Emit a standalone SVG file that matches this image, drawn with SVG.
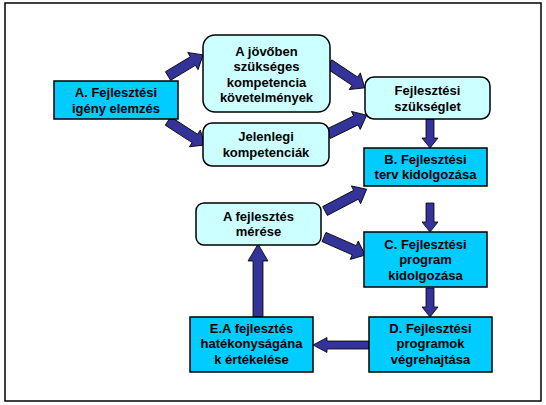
<svg xmlns="http://www.w3.org/2000/svg" width="546" height="405" viewBox="0 0 546 405">
<style>
.dark{fill:#00CCFF;stroke:#000;stroke-width:1.5}
.light{fill:#CCFFFF;stroke:#000;stroke-width:1.5}
.t{font-family:"Liberation Sans",Arial,sans-serif;font-weight:bold;font-size:13px;fill:#000;text-anchor:middle}
.arr{fill:#333399;stroke:#000;stroke-width:0.8;stroke-linejoin:miter}
</style>
<rect x="0" y="0" width="546" height="405" fill="#fff"/>
<rect x="5" y="3" width="536" height="398" fill="none" stroke="#000" stroke-width="1.5"/>
<g id="connectors">
<path class="arr" transform="translate(168,76) rotate(-31)" d="M0,-5 H29 V-10 L41,0 L29,10 V5 H0 Z"/>
<path class="arr" transform="translate(168,121) rotate(33)" d="M0,-5 H32 V-10 L44,0 L32,10 V5 H0 Z"/>
<path class="arr" transform="translate(329,64) rotate(33.7)" d="M0,-5 H31 V-10 L43,0 L31,10 V5 H0 Z"/>
<path class="arr" transform="translate(328,134) rotate(-26)" d="M0,-5 H31 V-10 L43,0 L31,10 V5 H0 Z"/>
<path class="arr" transform="translate(325,211) rotate(-27.6)" d="M0,-5 H35 V-10 L47,0 L35,10 V5 H0 Z"/>
<path class="arr" transform="translate(324,237) rotate(23.7)" d="M0,-5 H33 V-10 L45,0 L33,10 V5 H0 Z"/>
<path class="arr" d="M426,119 V138 H422 L430,148 L438,138 H434 V119 Z"/>
<path class="arr" d="M426,203 V222 H422 L430,232 L438,222 H434 V203 Z"/>
<path class="arr" d="M426,288 V307 H422 L430,317 L438,307 H434 V288 Z"/>
<path class="arr" d="M253,317 V261 H248 L258,244 L268,261 H263 V317 Z"/>
<path class="arr" d="M369,341 H327 V337.5 L313,345 L327,352.5 V349 H369 Z"/>
</g>
<g id="nodeA">
<rect class="dark" x="54" y="81" width="124" height="38"/>
<text class="t" x="116" y="97">A. Fejlesztési</text>
<text class="t" x="116" y="112.5">igény elemzés</text>
</g>
<g id="nodeFuture">
<rect class="light" x="203" y="35" width="127" height="77" rx="12"/>
<text class="t" x="266.5" y="55.5">A jövőben</text>
<text class="t" x="266.5" y="71">szükséges</text>
<text class="t" x="266.5" y="86.5">kompetencia</text>
<text class="t" x="266.5" y="102">követelmények</text>
</g>
<g id="nodeCurrent">
<rect class="light" x="203" y="123" width="126" height="43" rx="9"/>
<text class="t" x="266" y="141">Jelenlegi</text>
<text class="t" x="266" y="156.5">kompetenciák</text>
</g>
<g id="nodeNeed">
<rect class="light" x="365" y="77" width="125" height="42" rx="9"/>
<text class="t" x="427.5" y="95">Fejlesztési</text>
<text class="t" x="427.5" y="110.5">szükséglet</text>
</g>
<g id="nodeB">
<rect class="dark" x="364" y="148" width="123" height="38"/>
<text class="t" x="425.5" y="163.5">B. Fejlesztési</text>
<text class="t" x="425.5" y="179">terv kidolgozása</text>
</g>
<g id="nodeMeasure">
<rect class="light" x="196" y="203" width="125" height="42" rx="8"/>
<text class="t" x="258.5" y="220.5">A fejlesztés</text>
<text class="t" x="258.5" y="236">mérése</text>
</g>
<g id="nodeC">
<rect class="dark" x="364" y="232" width="123" height="55"/>
<text class="t" x="425.5" y="248.5">C. Fejlesztési</text>
<text class="t" x="425.5" y="264">program</text>
<text class="t" x="425.5" y="279.5">kidolgozása</text>
</g>
<g id="nodeD">
<rect class="dark" x="369" y="317" width="123" height="55"/>
<text class="t" x="430.5" y="332.5">D. Fejlesztési</text>
<text class="t" x="430.5" y="348">programok</text>
<text class="t" x="430.5" y="363.5">végrehajtása</text>
</g>
<g id="nodeE">
<rect class="dark" x="190" y="317" width="123" height="55"/>
<text class="t" x="251.5" y="332.5">E.A fejlesztés</text>
<text class="t" x="251.5" y="348">hatékonyságána</text>
<text class="t" x="251.5" y="363.5">k értékelése</text>
</g>
</svg>
